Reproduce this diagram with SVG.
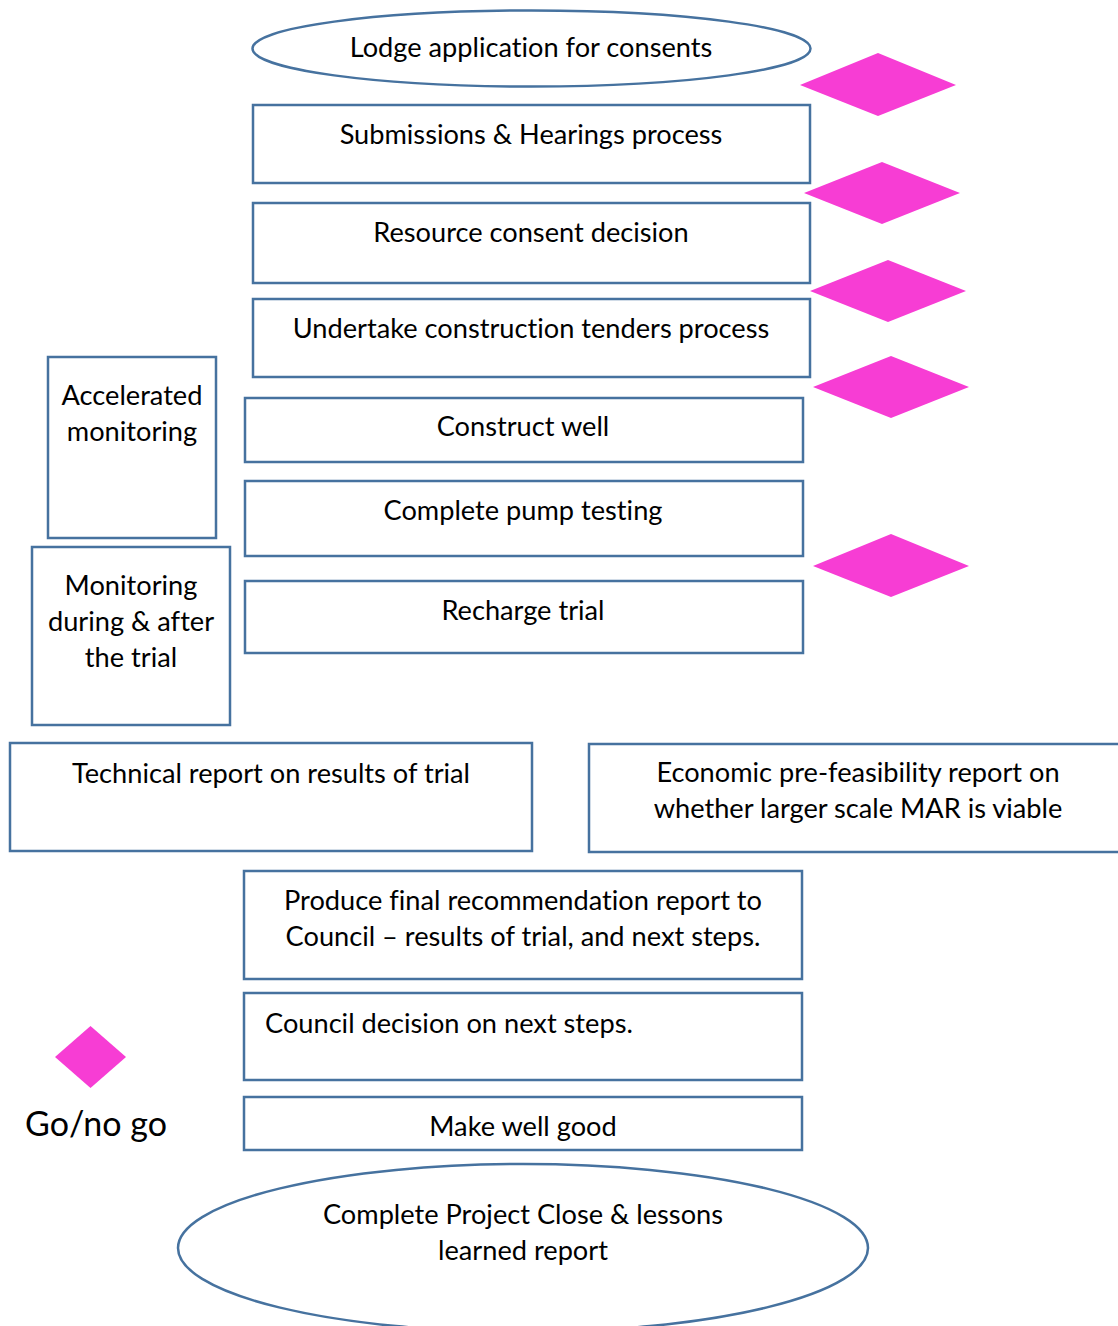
<svg xmlns="http://www.w3.org/2000/svg" width="1118" height="1326" viewBox="0 0 1118 1326">
<style>
.n{fill:#ffffff;stroke:#46729f;stroke-width:2.5}
.d{fill:#f73dd4;stroke:none}
text{font-family:Lato,"Liberation Sans",sans-serif;font-size:27.2px;fill:#000;font-variant-ligatures:none}
.c{text-anchor:middle}
</style>
<rect width="1118" height="1326" fill="#ffffff"/>
<g id="connectors"></g>
<g id="lodge"><ellipse class="n" cx="531.5" cy="48.5" rx="279" ry="38"/><text class="c" x="531" y="57">Lodge application for consents</text></g>
<g id="submissions"><rect class="n" x="253" y="105" width="557" height="78"/><text class="c" x="531" y="144">Submissions &amp; Hearings process</text></g>
<g id="decision"><rect class="n" x="253" y="203" width="557" height="80"/><text class="c" x="531" y="242">Resource consent decision</text></g>
<g id="tenders"><rect class="n" x="253" y="299" width="557" height="78"/><text class="c" x="531" y="338">Undertake construction tenders process</text></g>
<g id="construct"><rect class="n" x="245" y="398" width="558" height="64"/><text class="c" x="523" y="436">Construct well</text></g>
<g id="pump"><rect class="n" x="245" y="481" width="558" height="75"/><text class="c" x="523" y="520">Complete pump testing</text></g>
<g id="recharge"><rect class="n" x="245" y="581" width="558" height="72"/><text class="c" x="523" y="620">Recharge trial</text></g>
<g id="accel"><rect class="n" x="48" y="357" width="168" height="181"/><text class="c" x="132" y="405">Accelerated</text><text class="c" x="132" y="441">monitoring</text></g>
<g id="monitoring"><rect class="n" x="32" y="547" width="198" height="178"/><text class="c" x="131" y="595">Monitoring</text><text class="c" x="131" y="631">during &amp; after</text><text class="c" x="131" y="667">the trial</text></g>
<g id="technical"><rect class="n" x="10" y="743" width="522" height="108"/><text class="c" x="271" y="783">Technical report on results of trial</text></g>
<g id="economic"><rect class="n" x="589" y="744" width="540" height="108"/><text class="c" x="858" y="782">Economic pre-feasibility report on</text><text class="c" x="858" y="818">whether larger scale MAR is viable</text></g>
<g id="final"><rect class="n" x="244" y="871" width="558" height="108"/><text class="c" x="523" y="910">Produce final recommendation report to</text><text class="c" x="523" y="946">Council – results of trial, and next steps.</text></g>
<g id="council"><rect class="n" x="244" y="993" width="558" height="87"/><text x="265" y="1033">Council decision on next steps.</text></g>
<g id="makegood"><rect class="n" x="244" y="1097" width="558" height="53"/><text class="c" x="523" y="1136">Make well good</text></g>
<g id="close"><ellipse class="n" cx="523" cy="1248" rx="345" ry="84"/><text class="c" x="523" y="1224">Complete Project Close &amp; lessons</text><text class="c" x="523" y="1260">learned report</text></g>
<g id="gate1"><polygon class="d" points="800,85 878,53 956,85 878,116"/></g>
<g id="gate2"><polygon class="d" points="804,193 882,162 960,193 882,224"/></g>
<g id="gate3"><polygon class="d" points="810,291 888,260 966,291 888,322"/></g>
<g id="gate4"><polygon class="d" points="813,387 891,356 969,387 891,418"/></g>
<g id="gate5"><polygon class="d" points="813,566 891,534 969,566 891,597"/></g>
<g id="legend"><polygon class="d" points="55,1057 90.5,1026 126,1057 90.5,1088"/><text x="25" y="1136" style="font-size:34px">Go/no go</text></g>
</svg>
